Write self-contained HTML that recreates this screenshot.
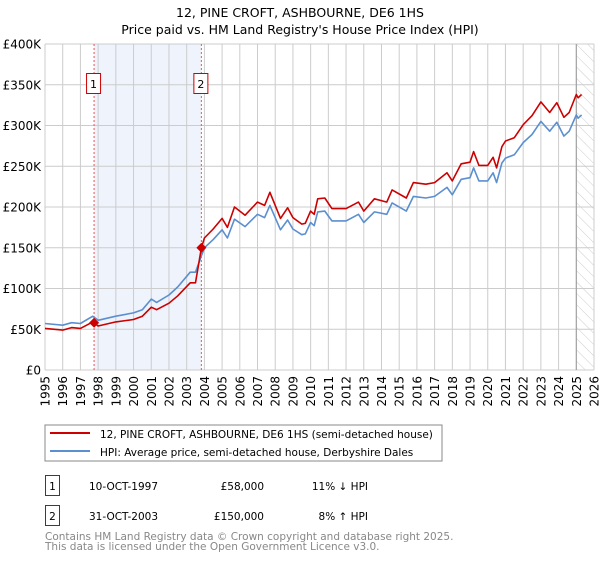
<!DOCTYPE html>
<html><head><meta charset="utf-8"><style>
body{margin:0;background:#fff;font-family:"DejaVu Sans","Liberation Sans",sans-serif;}
svg text{font-family:"DejaVu Sans","Liberation Sans",sans-serif;}
</style></head><body>
<svg id="chart" width="600" height="560" viewBox="0 0 600 560" xmlns="http://www.w3.org/2000/svg">
<defs>
<pattern id="hatch" width="8" height="8" patternUnits="userSpaceOnUse" patternTransform="rotate(-45)">
<line x1="0" y1="0" x2="0" y2="8" stroke="#ccc" stroke-width="1"/>
</pattern>
</defs>
<text x="300" y="17" font-size="12.5" text-anchor="middle">12, PINE CROFT, ASHBOURNE, DE6 1HS</text>
<text x="300" y="34" font-size="12.5" text-anchor="middle">Price paid vs. HM Land Registry's House Price Index (HPI)</text>
<g id="plot"></g>
<rect x="45" y="425" width="397" height="36" fill="#fff" stroke="#888"/>
<line x1="50" y1="433" x2="90" y2="433" stroke="#cc0000" stroke-width="2"/>
<text x="100" y="438" font-size="10.5">12, PINE CROFT, ASHBOURNE, DE6 1HS (semi-detached house)</text>
<line x1="50" y1="451" x2="90" y2="451" stroke="#5b8fd0" stroke-width="2"/>
<text x="100" y="456" font-size="10.5">HPI: Average price, semi-detached house, Derbyshire Dales</text>
<g font-size="10.5">
<rect x="45.5" y="475.5" width="14" height="20" fill="#fff" stroke="#cc0000"/>
<text x="52.5" y="490" text-anchor="middle">1</text>
<text x="89" y="490">10-OCT-1997</text>
<text x="264" y="490" text-anchor="end">£58,000</text>
<text x="368" y="490" text-anchor="end">11% ↓ HPI</text>
<rect x="45.5" y="505.5" width="14" height="20" fill="#fff" stroke="#cc0000"/>
<text x="52.5" y="520" text-anchor="middle">2</text>
<text x="89" y="520">31-OCT-2003</text>
<text x="264" y="520" text-anchor="end">£150,000</text>
<text x="368" y="520" text-anchor="end">8% ↑ HPI</text>
</g>
<text x="45" y="540" font-size="10.5" fill="#888">Contains HM Land Registry data © Crown copyright and database right 2025.</text>
<text x="45" y="550" font-size="10.5" fill="#888">This data is licensed under the Open Government Licence v3.0.</text>
</svg>
<script>
const hpiYears=[1995.0,1996.0,1996.5,1997.0,1997.7,1998.0,1999,2000,2000.5,2001,2001.3,2002,2002.5,2003.2,2003.5,2003.83,2004,2004.5,2005,2005.3,2005.7,2006.3,2007,2007.4,2007.7,2008.3,2008.7,2009,2009.5,2009.7,2010,2010.2,2010.4,2010.8,2011.2,2012,2012.7,2013,2013.6,2014.3,2014.6,2015.4,2015.8,2016.5,2017,2017.7,2018,2018.5,2019,2019.2,2019.5,2020,2020.3,2020.5,2020.8,2021,2021.5,2022,2022.5,2023,2023.5,2023.9,2024.3,2024.6,2025,2025.1,2025.3];
const hpiValues=[57,55,58,57,66,61,66,70,74,87,83,92,102,120,120,140,150,160,172,162,185,176,191,187,202,172,184,173,166,167,181,177,194,195,183,183,191,181,194,191,205,195,213,211,213,224,215,234,236,248,232,232,242,230,254,260,264,279,289,305,293,304,287,293,313,309,313];
const priceValues=[51,49,52,51,59,54,59,62,66,77,74,82,91,107,107,150,162,173,186,175,200,190,206,202,218,186,199,187,179,180,195,191,210,211,198,198,206,195,210,206,221,211,230,228,230,242,232,253,255,268,251,251,261,248,274,281,285,301,312,329,316,328,310,316,338,334,338];
const saleYears=[1997.77,2003.83];
const salePrices=[58,150];
const saleLabels=["1","2"];
const yTicks=[0,50,100,150,200,250,300,350,400];
const yTickLabels=["£0","£50K","£100K","£150K","£200K","£250K","£300K","£350K","£400K"];
const xTicks=[1995,1996,1997,1998,1999,2000,2001,2002,2003,2004,2005,2006,2007,2008,2009,2010,2011,2012,2013,2014,2015,2016,2017,2018,2019,2020,2021,2022,2023,2024,2025,2026];

const X0=45,X1=594,Y0=370,Y1=44;
const xs=t=>X0+(t-1995)/(2026-1995)*(X1-X0);
const ys=v=>Y0-v/400*(Y0-Y1);
const NS="http://www.w3.org/2000/svg";
const g=document.getElementById('plot');
function mk(tag,attrs,parent){const e=document.createElementNS(NS,tag);for(const k in attrs)e.setAttribute(k,attrs[k]);(parent||g).appendChild(e);return e;}

let e=mk('rect',{x:xs(saleYears[0]),y:Y1,width:xs(saleYears[1])-xs(saleYears[0]),height:Y0-Y1,fill:'#eef3fc'});


e=mk('rect',{x:xs(2025),y:Y1,width:xs(2026)-xs(2025),height:Y0-Y1,fill:'url(#hatch)'});



xTicks.forEach((t,i)=>{
  const l=mk('line',{x1:xs(t),x2:xs(t),y1:Y1,y2:Y0,stroke:'#cccccc','stroke-width':1});
  
  
  const tx=mk('text',{x:0,y:0,'font-size':12,'text-anchor':'end',transform:`translate(${xs(t)+4.5},${Y0+6}) rotate(-90)`});
  tx.textContent=t;
  
  
});
yTicks.forEach((v,i)=>{
  const l=mk('line',{x1:X0,x2:X1,y1:ys(v),y2:ys(v),stroke:'#cccccc','stroke-width':1});
  
  
  const tx=mk('text',{x:X0-4,y:ys(v)+4.5,'font-size':12,'text-anchor':'end'});
  tx.textContent=yTickLabels[i];
  
  
});
e=mk('line',{x1:xs(2025),x2:xs(2025),y1:Y1,y2:Y0,stroke:'#999','stroke-width':1});



saleYears.forEach((t,i)=>{
  const l=mk('line',{x1:xs(t),x2:xs(t),y1:Y1,y2:Y0,stroke:'#ee5555','stroke-width':1,'stroke-dasharray':'2,2'});
  
  
  const r=mk('rect',{x:xs(t)-7.5,y:73.5,width:14,height:20,fill:'#fff',stroke:'#cc0000'});
  
  
  const tx=mk('text',{x:xs(t)-0.5,y:88,'font-size':11,'text-anchor':'middle'});
  tx.textContent=saleLabels[i];
  
  
});

const pts=(vals)=>hpiYears.map((t,i)=>xs(t).toFixed(1)+','+ys(vals[i]).toFixed(1)).join(' ');
e=mk('polyline',{points:pts(hpiValues),fill:'none',stroke:'#5b8fd0','stroke-width':1.6,'stroke-linejoin':'round'});


e=mk('polyline',{points:pts(priceValues),fill:'none',stroke:'#cc0000','stroke-width':1.6,'stroke-linejoin':'round'});


saleYears.forEach((t,i)=>{
  const cx=xs(t),cy=ys(salePrices[i]);
  const p=mk('polygon',{points:`${cx},${cy-5} ${cx+5},${cy} ${cx},${cy+5} ${cx-5},${cy}`,fill:'#cc0000'});
  
  
});
</script>
</body></html>
